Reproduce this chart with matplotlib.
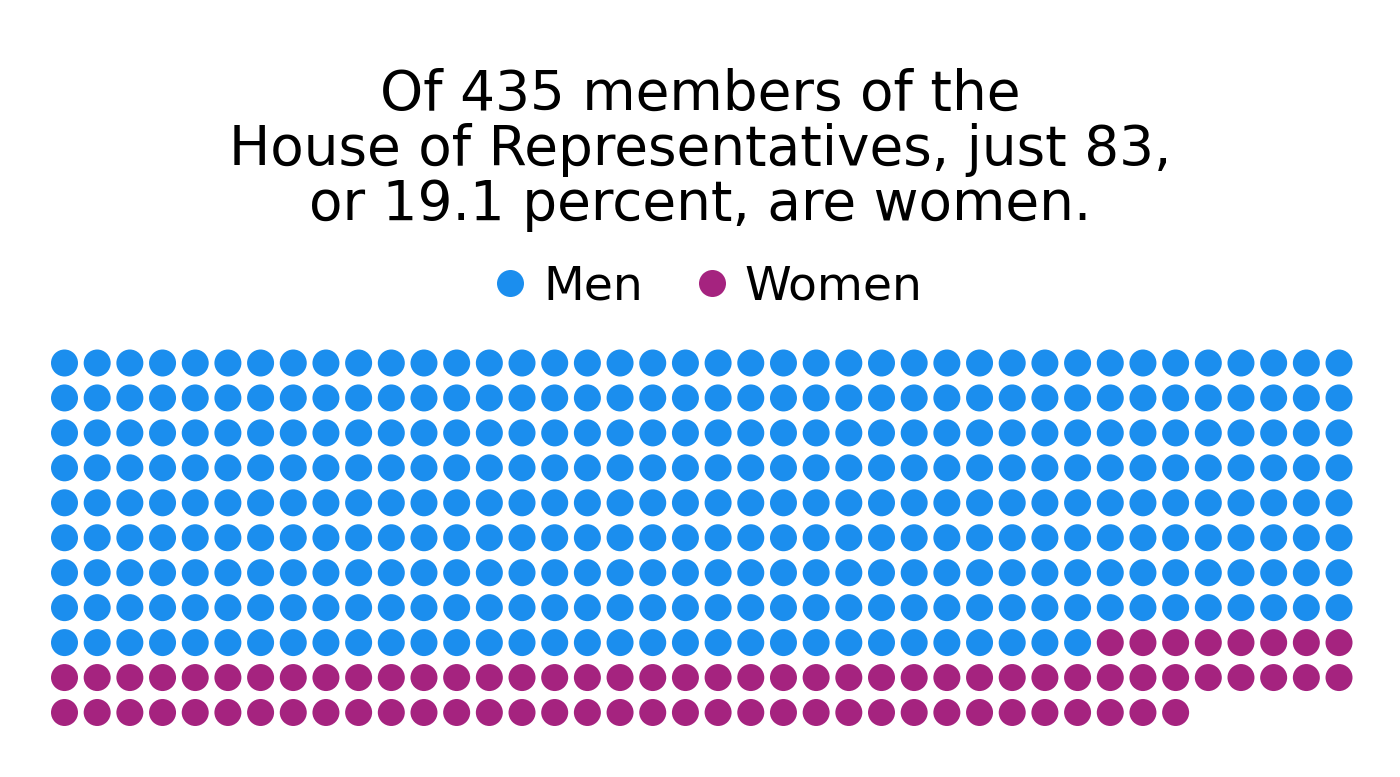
import matplotlib
matplotlib.use("Agg")
import matplotlib.pyplot as plt
from matplotlib.lines import Line2D
import numpy as np

# ---- data ----
categories = ["Men", "Women"]
counts = [352, 83]
colors = ["#1B8EEE", "#A5237F"]
title_lines = ["Of 435 members of the",
               "House of Representatives, just 83,",
               "or 19.1 percent, are women."]
n_cols = 40

W, H = 1400, 777
fig = plt.figure(figsize=(W / 100, H / 100), dpi=100)
fig.patch.set_facecolor("white")

# grid geometry (pixels)
x0, dx = 64.5, 32.68
y0, dy = 363.0, 34.95
total = sum(counts)
n_rows = int(np.ceil(total / n_cols))
left = (x0 - dx / 2) / W
width = n_cols * dx / W
top = (y0 - dy / 2) / H
height = n_rows * dy / H
ax = fig.add_axes([left, 1 - top - height, width, height])
ax.set_xlim(-0.5, n_cols - 0.5)
ax.set_ylim(n_rows - 0.5, -0.5)
ax.axis("off")

idx = 0
dot_pt = 27 * 72 / 100
for cat, cnt, col in zip(categories, counts, colors):
    ids = np.arange(idx, idx + cnt)
    ax.scatter(ids % n_cols, ids // n_cols, s=dot_pt ** 2, color=col,
               edgecolors="none", label=cat)
    idx += cnt

# title
font = "DejaVu Sans"
for line, base in zip(title_lines, [110, 165, 220]):
    fig.text(0.5, 1 - base / H, line, ha="center", va="baseline",
             fontsize=39.5, family=font, color="#000000")

handles = [Line2D([], [], marker="o", linestyle="none", markersize=dot_pt,
                  markerfacecolor=c, markeredgecolor="none") for c in colors]
fig.legend(handles, categories, loc="center", ncol=2,
           bbox_to_anchor=(707 / W, 1 - 287 / H), frameon=False,
           prop={"family": font, "size": 34}, handletextpad=0.3,
           columnspacing=1.05, handlelength=0.8, borderpad=0,
           labelcolor="#000000")

fig.savefig("out.png", dpi=100, facecolor="white")
